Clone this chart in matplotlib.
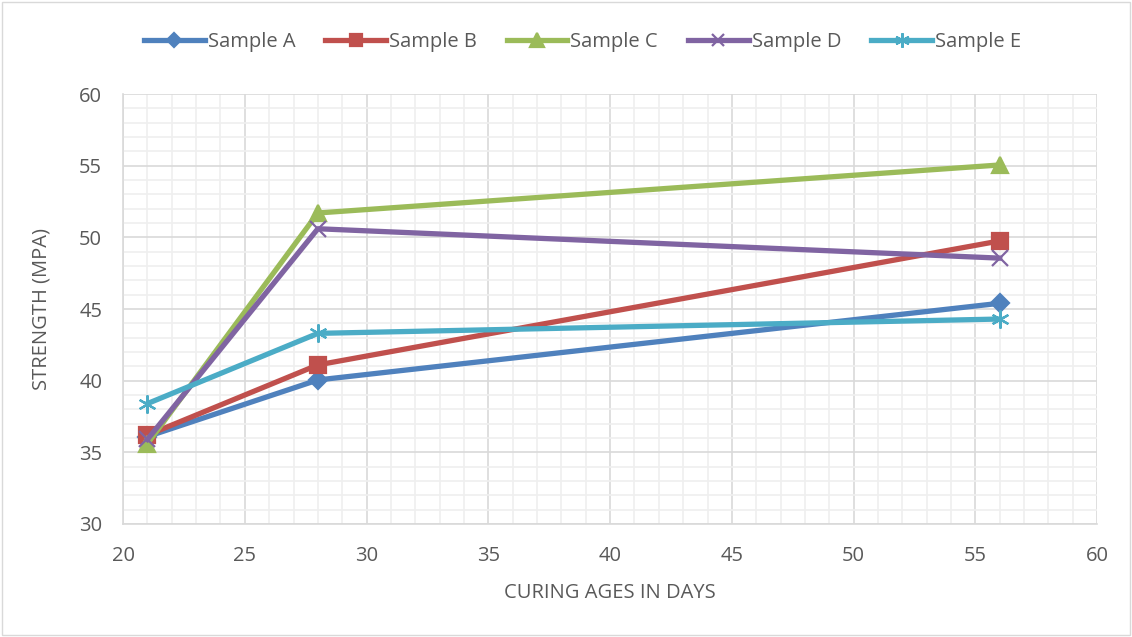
import matplotlib.pyplot as plt
from matplotlib.ticker import MultipleLocator
from matplotlib.patches import Rectangle

# curing ages (days) and strength (MPa) per sample
ages = [21, 28, 56]
sample_a = [36.1, 40.05, 45.4]
sample_b = [36.2, 41.1, 49.75]
sample_c = [35.6, 51.7, 55.05]
sample_d = [35.9, 50.6, 48.55]
sample_e = [38.4, 43.3, 44.3]

series = [
    ("Sample A", sample_a, "#4F81BD", "D", 9),
    ("Sample B", sample_b, "#C0504D", "s", 11),
    ("Sample C", sample_c, "#9BBB59", "^", 12),
    ("Sample D", sample_d, "#8064A2", "x", 11),
    ("Sample E", sample_e, "#4BACC6", (6, 2, 0), 13),
]

plt.rcParams['font.family'] = ['Open Sans', 'DejaVu Sans']
text_col = "#595959"

fig = plt.figure(figsize=(11.32, 6.37), dpi=100)
ax = fig.add_axes([0.1087, 0.1774, 0.8605, 0.675])

for name, vals, col, mk, ms in series:
    ax.plot(ages, vals, color=col, lw=3.8, marker=mk, markersize=ms,
            markeredgewidth=1.6, label=name, zorder=3)

ax.set_xlim(20, 60)
ax.set_ylim(30, 60)
ax.xaxis.set_major_locator(MultipleLocator(5))
ax.yaxis.set_major_locator(MultipleLocator(5))
ax.xaxis.set_minor_locator(MultipleLocator(1))
ax.yaxis.set_minor_locator(MultipleLocator(1))
ax.grid(which="major", color="#d9d9d9", lw=1.2)
ax.grid(which="minor", color="#efefef", lw=1.2)
ax.set_axisbelow(True)

for s in ["top", "right"]:
    ax.spines[s].set_visible(False)
for s in ["left", "bottom"]:
    ax.spines[s].set_color("#d9d9d9")
    ax.spines[s].set_linewidth(1.2)

ax.tick_params(which="both", length=0, labelsize=14.5, colors=text_col)
ax.tick_params(axis="x", pad=16)
ax.tick_params(axis="y", pad=15)
ax.set_xlabel("CURING AGES IN DAYS", fontsize=14.5, color=text_col, labelpad=12)
ax.set_ylabel("STRENGTH (MPA)", fontsize=14.5, color=text_col, labelpad=20)

fig.legend(loc="center", bbox_to_anchor=(0.5146, 0.934), ncol=5, frameon=False,
           fontsize=14.5, handlelength=3.0, handletextpad=0.15, columnspacing=1.5,
           labelcolor=text_col, markerscale=0.8)

fig.patches.append(Rectangle((0.002, 0.003), 0.996, 0.994, transform=fig.transFigure,
                             fill=False, edgecolor="#d9d9d9", lw=1))

fig.savefig("out.png", dpi=100)
